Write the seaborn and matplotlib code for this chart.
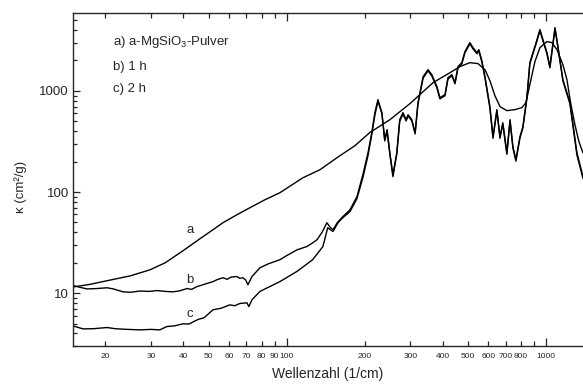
import numpy as np
import pandas as pd
import matplotlib
matplotlib.use("Agg")
import matplotlib.pyplot as plt
import seaborn as sns
from matplotlib.ticker import FixedLocator, FixedFormatter, LogLocator, NullFormatter, FuncFormatter

# ---- data (wavenumber in 1/cm, kappa in cm^2/g) ----
a_wn = [15.0, 17.4, 20.1, 24.9, 29.7, 34.0, 39.8, 46.3, 52.0, 56.8, 64.3, 72.2, 82.5,
        94.2, 115.6, 134.5, 156.4, 183.4, 209, 250.3, 298.9, 367, 427, 466, 509, 546.8,
        582, 608, 635.8, 665, 707, 759.3, 808, 837.5, 867, 907, 948, 1009, 1054.6,
        1102.6, 1163, 1205, 1248.6, 1293.6, 1340.6, 1390]
a_k = [11.5, 12.2, 13.2, 14.8, 17.0, 19.95, 26.2, 34.5, 42.4, 49.7, 59.6, 70, 83.9,
       98.5, 138.5, 166.3, 218.6, 287.3, 386.5, 519.8, 748.7, 1208, 1517, 1740, 1905, 1863,
       1623, 1265, 898, 700, 638, 653, 684, 766, 1154, 1950, 2684, 3077, 3006,
       2565, 1820, 1294, 732, 464, 315, 244]

b_wn = [15.0, 16.0, 17.0, 18.5, 20.3, 21.5, 23.4, 25.0, 27.2, 29.5, 31.6, 34.0, 36.4,
        38.5, 41.3, 43.0, 45.1, 48.0, 52.0, 54.0, 56.8, 59.0, 61.0, 64.3, 66.0, 67.8,
        69.5, 70.9, 73.5, 78.9, 85.0, 94.2, 100, 109.6, 119.7, 125, 130.9, 137, 143, 147,
        151, 157, 165, 175.5, 186.7, 197,
        206, 213, 219, 225, 233, 239, 244, 250, 257, 266, 273, 281, 289, 294, 304, 313,
        321, 336, 351, 363, 380, 390, 408, 419, 434, 446, 458, 474, 487, 509, 523, 542,
        551, 566, 582, 608, 625, 647, 665, 682, 707, 727, 746, 766, 794, 815, 845, 867,
        891, 924, 948, 974, 1009, 1036, 1084, 1113, 1163, 1238, 1317, 1390]
b_k = [11.9, 11.4, 11.0, 11.1, 11.3, 11.0, 10.3, 10.2, 10.5, 10.4, 10.6, 10.4, 10.3,
       10.5, 11.1, 10.9, 11.6, 12.2, 13.0, 13.6, 14.2, 13.7, 14.4, 14.6, 14.0, 14.2,
       13.5, 12.1, 14.6, 17.8, 19.5, 21.4, 23.5, 26.8, 28.9, 31.0, 33.7, 40, 49.7, 45,
       42.4, 50, 57.3, 66.8, 90, 150,
       245, 386, 610, 820, 610, 330, 414, 245, 148, 245, 520, 610, 520, 582, 520, 386,
       766, 1384, 1625, 1449, 1101, 859, 919, 1352, 1449, 1208, 1740, 1905, 2450, 3006, 2685, 2393,
       2565, 1995, 1384, 700, 353, 653, 353, 485, 245, 520, 281, 209, 353, 443, 879, 1905,
       2393, 3222, 4046, 3222, 2393, 1740, 4236, 2745, 1294, 766, 245, 141.6]

c_wn = [15.0, 16.4, 18.0, 20.3, 21.8, 23.4, 27.2, 30.0, 32.4, 34.5, 37.0, 39.8, 42.0,
        45.6, 48.0, 52.0, 56.0, 60.4, 63.0, 66.0, 70.3, 71.5, 73.5, 78.9, 94.2, 109.6,
        126, 138, 144, 151, 158, 165, 175.5, 186.7, 197,
        206, 213, 219, 225, 233, 239, 244, 250, 257, 266, 273, 281, 289, 294, 304, 313,
        321, 336, 351, 363, 380, 390, 408, 419, 434, 446, 458, 474, 487, 509, 523, 542,
        551, 566, 582, 608, 625, 647, 665, 682, 707, 727, 746, 766, 794, 815, 845, 867,
        891, 924, 948, 974, 1009, 1036, 1084, 1113, 1163, 1238, 1317, 1390]
c_k = [4.74, 4.43, 4.45, 4.57, 4.45, 4.40, 4.33, 4.38, 4.33, 4.67, 4.75, 4.97, 4.95,
       5.5, 5.7, 6.84, 7.1, 7.66, 7.5, 7.9, 8.02, 7.36, 8.59, 10.4, 13.0, 16.4,
       21.4, 28.9, 44.3, 40.7, 50, 56, 64, 86, 140,
       230, 370, 580, 790, 600, 320, 400, 240, 142, 238, 500, 590, 505, 565, 505, 375,
       740, 1340, 1580, 1410, 1070, 835, 895, 1310, 1410, 1175, 1690, 1850, 2380, 2920, 2610, 2330,
       2490, 1940, 1345, 680, 340, 635, 340, 470, 236, 505, 272, 202, 342, 430, 850, 1850,
       2320, 3130, 3930, 3130, 2330, 1690, 4110, 2660, 1255, 745, 232, 136]

x_major = [100, 1000]
x_minor = [20, 30, 40, 50, 60, 70, 80, 90, 200, 300, 400, 500, 600, 700, 800, 900]
x_major_labels = ["100", "1000"]
x_minor_labels = ["20", "30", "40", "50", "60", "70", "80", "90",
                  "200", "300", "400", "500", "600", "700", "800", ""]

legend_lines = ["a) a-MgSiO$_3$-Pulver", "b) 1 h", "c) 2 h"]
curve_tags = ["a", "b", "c"]
tag_pos_x = [42.4, 42.4, 42.4]
tag_pos_y = [42.4, 13.5, 6.2]

# ---- plotting ----
sns.set_style("ticks")
plt.rcParams["font.family"] = ["Liberation Sans", "DejaVu Sans"]
plt.rcParams["mathtext.fontset"] = "custom"
plt.rcParams["mathtext.rm"] = "Liberation Sans"
plt.rcParams["mathtext.default"] = "rm"

fig = plt.figure(figsize=(5.83, 3.85), dpi=100)
ax = fig.add_axes([73 / 583, 1 - 346 / 385, 510 / 583, 333 / 385])

for wn, k in [(a_wn, a_k), (b_wn, b_k), (c_wn, c_k)]:
    df = pd.DataFrame({"wn": wn, "k": k})
    sns.lineplot(data=df, x="wn", y="k", ax=ax, color="black", linewidth=1.0,
                 sort=False, estimator=None)

ax.set_xscale("log")
ax.set_yscale("log")
ax.set_xlim(15, 1390)
ax.set_ylim(3, 5900)

ax.xaxis.set_major_locator(FixedLocator(x_major))
ax.xaxis.set_major_formatter(FixedFormatter(x_major_labels))
ax.xaxis.set_minor_locator(FixedLocator(x_minor))
ax.xaxis.set_minor_formatter(FixedFormatter(x_minor_labels))

ax.yaxis.set_major_locator(LogLocator(base=10, numticks=10))
ax.yaxis.set_major_formatter(FuncFormatter(lambda v, p: f"{v:g}"))
ax.yaxis.set_minor_locator(LogLocator(base=10, subs=np.arange(2, 10), numticks=20))
ax.yaxis.set_minor_formatter(NullFormatter())

ax.tick_params(axis="x", which="both", direction="in", top=True, labelsize=6, pad=5, width=0.9)
ax.tick_params(axis="x", which="major", length=6)
ax.tick_params(axis="x", which="minor", length=3.5)
ax.tick_params(axis="y", which="both", direction="in", labelsize=9.5, width=0.9, pad=3)
ax.tick_params(axis="y", which="major", length=5)
ax.tick_params(axis="y", which="minor", length=3)

for s in ["left", "bottom", "top"]:
    ax.spines[s].set_visible(True)
    ax.spines[s].set_linewidth(1.0)
ax.spines["right"].set_visible(False)

ax.set_xlabel("Wellenzahl (1/cm)", fontsize=10, labelpad=5)
ax.set_ylabel("κ (cm²/g)", fontsize=9.5)
ax.yaxis.set_label_coords(-0.09, 0.477)

for i, t in enumerate(legend_lines):
    ax.text(0.078, [0.913, 0.838, 0.772][i], t, transform=ax.transAxes,
            fontsize=9.5, va="center", ha="left")

for t, x, y in zip(curve_tags, tag_pos_x, tag_pos_y):
    ax.text(x, y, t, fontsize=9.5, ha="center", va="center")

fig.savefig("out.png", dpi=100)
